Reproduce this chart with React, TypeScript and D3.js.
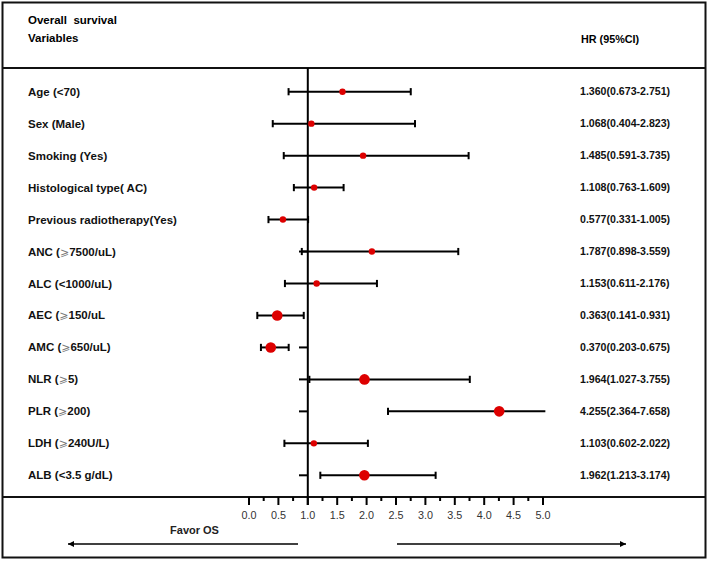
import React from "react";
import * as d3 from "d3";

const variables = [
  "Age (<70)",
  "Sex (Male)",
  "Smoking (Yes)",
  "Histological type( AC)",
  "Previous radiotherapy(Yes)",
  "ANC (\u2a7e7500/uL)",
  "ALC (<1000/uL)",
  "AEC (\u2a7e150/uL",
  "AMC (\u2a7e650/uL)",
  "NLR (\u2a7e5)",
  "PLR (\u2a7e200)",
  "LDH (\u2a7e240U/L)",
  "ALB (<3.5 g/dL)",
];
// dot positions as drawn in the picture
const hrPlotted = [1.59, 1.06, 1.94, 1.108, 0.577, 2.09, 1.15, 0.48, 0.37, 1.964, 4.255, 1.103, 1.962];
const ciLower = [0.673, 0.404, 0.591, 0.763, 0.331, 0.898, 0.611, 0.141, 0.203, 1.027, 2.364, 0.602, 1.213];
const ciUpper = [2.751, 2.823, 3.735, 1.609, 1.005, 3.559, 2.176, 0.931, 0.675, 3.755, 7.658, 2.022, 3.174];
const significant = [false, false, false, false, false, false, false, true, true, true, true, false, true];
const stubRows = [false, false, false, false, false, true, false, false, true, true, true, false, true];
const hrText = [
  "1.360(0.673-2.751)",
  "1.068(0.404-2.823)",
  "1.485(0.591-3.735)",
  "1.108(0.763-1.609)",
  "0.577(0.331-1.005)",
  "1.787(0.898-3.559)",
  "1.153(0.611-2.176)",
  "0.363(0.141-0.931)",
  "0.370(0.203-0.675)",
  "1.964(1.027-3.755)",
  "4.255(2.364-7.658)",
  "1.103(0.602-2.022)",
  "1.962(1.213-3.174)",
];
const majorTicks = [0, 0.5, 1, 1.5, 2, 2.5, 3, 3.5, 4, 4.5, 5];
const minorTicks = [0.25, 0.75, 1.25, 1.75, 2.25, 2.75, 3.25, 3.75, 4.25, 4.75];
const axisMax = 5.04;
const stubStart = 0.85;

const W = 709;
const H = 561;
const GE = "\u2a7e";

function Label({ text, x, y }: { text: string; x: number; y: number }) {
  const parts = text.split(GE);
  return (
    <text x={x} y={y} dy="0.35em" fontSize={11.5} fontWeight="bold" fill="#111">
      {parts.map((p, j) => (
        <React.Fragment key={j}>
          {j > 0 && (
            <tspan fontFamily="'DejaVu Sans', sans-serif" fontWeight="normal" fill="#777" fontSize={11}>
              {GE}
            </tspan>
          )}
          <tspan>{p}</tspan>
        </React.Fragment>
      ))}
    </text>
  );
}

export default function App() {
  const x = d3.scaleLinear().domain([0, 5]).range([249, 543]);
  const y = d3.scalePoint<string>().domain(variables).range([91.7, 475.3]);
  const font = "'Liberation Sans', Arial, sans-serif";
  const capH = 3.6;
  const axisY = 497;
  const arrowY = 544;

  return (
    <svg
      width={W}
      height={H}
      style={{ position: "absolute", left: 0, top: 0, background: "#fff" }}
      fontFamily={font}
    >
      <defs>
        <marker id="ah" viewBox="0 0 10 10" refX="10" refY="5" markerWidth="8" markerHeight="6" orient="auto-start-reverse" markerUnits="userSpaceOnUse">
          <path d="M0,0 L10,5 L0,10 z" fill="#000" />
        </marker>
      </defs>
      {/* frames */}
      <rect x={2.5} y={2.5} width={703} height={555} fill="none" stroke="#111" strokeWidth={2} />
      <line x1={2} x2={706} y1={68} y2={68} stroke="#111" strokeWidth={2} />
      <line x1={2} x2={706} y1={axisY} y2={axisY} stroke="#111" strokeWidth={2} />

      {/* header */}
      <text x={28} y={20} dy="0.35em" fontSize={11.5} fontWeight="bold" style={{ whiteSpace: "pre" }}>
        {"Overall  survival"}
      </text>
      <text x={28} y={38} dy="0.35em" fontSize={11.5} fontWeight="bold">Variables</text>
      <text x={581} y={39} dy="0.35em" fontSize={10.8} fontWeight="bold">HR (95%CI)</text>

      {/* reference line */}
      <line x1={x(1)} x2={x(1)} y1={68} y2={axisY + 8} stroke="#000" strokeWidth={2} />

      {variables.map((v, i) => {
        const cy = y(v)!;
        const lo = x(ciLower[i]);
        const hiClipped = ciUpper[i] > axisMax;
        const hi = x(Math.min(ciUpper[i], axisMax));
        return (
          <g key={v}>
            <Label text={v} x={28} y={cy} />
            {stubRows[i] && (
              <line x1={x(stubStart)} x2={x(1)} y1={cy} y2={cy} stroke="#000" strokeWidth={2} />
            )}
            <line x1={lo} x2={hi} y1={cy} y2={cy} stroke="#000" strokeWidth={2} />
            <line x1={lo} x2={lo} y1={cy - capH} y2={cy + capH} stroke="#000" strokeWidth={2} />
            {!hiClipped && <line x1={hi} x2={hi} y1={cy - capH} y2={cy + capH} stroke="#000" strokeWidth={2} />}
            <circle cx={x(hrPlotted[i])} cy={cy} r={significant[i] ? 5.3 : 3.2} fill="#dd0000" />
            <text x={580} y={cy} dy="0.35em" fontSize={10.6} fontWeight="bold" fill="#111">{hrText[i]}</text>
          </g>
        );
      })}

      {/* axis ticks */}
      {majorTicks.map((t) => (
        <g key={"M" + t}>
          <line x1={x(t)} x2={x(t)} y1={axisY} y2={axisY + 8} stroke="#000" strokeWidth={2} />
          <text x={x(t)} y={515} dy="0.35em" textAnchor="middle" fontSize={10.8} fill="#333">{d3.format(".1f")(t)}</text>
        </g>
      ))}
      {minorTicks.map((t) => (
        <line key={"m" + t} x1={x(t)} x2={x(t)} y1={axisY} y2={axisY + 4} stroke="#000" strokeWidth={2} />
      ))}

      <text x={194.5} y={530} dy="0.35em" textAnchor="middle" fontSize={11} fontWeight="bold" fill="#222">Favor OS</text>

      {/* arrows */}
      <line x1={298} x2={68} y1={arrowY} y2={arrowY} stroke="#000" strokeWidth={1.3} markerEnd="url(#ah)" />
      <line x1={397} x2={626} y1={arrowY} y2={arrowY} stroke="#000" strokeWidth={1.3} markerEnd="url(#ah)" />
    </svg>
  );
}
